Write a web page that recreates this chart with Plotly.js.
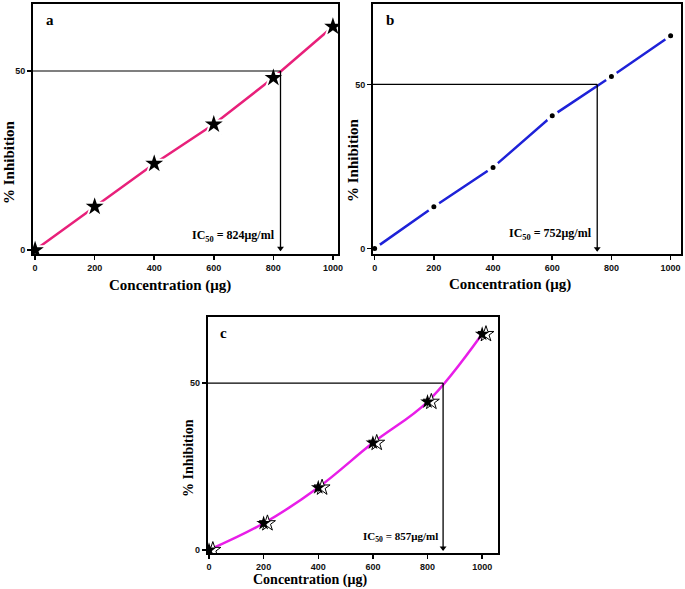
<!DOCTYPE html>
<html><head><meta charset="utf-8">
<script src="https://cdn.plot.ly/plotly-3.0.1.min.js"></script>
<style>html,body{margin:0;padding:0;background:#fff;}#chart{width:685px;height:589px;}</style>
</head><body><div id="chart"></div>
<script>
// Data
const conc = [0, 200, 400, 600, 800, 1000];
const inhA = [0, 12.1, 24.1, 35.1, 48.1, 62.4];
const inhB = [0, 12.7, 24.7, 40.4, 52.4, 64.8];
const inhC = [0, 8.0, 18.7, 32.1, 44.4, 64.7];
const ic50 = [824, 752, 857];
const panelLabels = ['a', 'b', 'c'];
const xTicks = [0, 200, 400, 600, 800, 1000];
const yTicks = [0, 50];

const xr = [[-7, 1017], [-5.7, 1034], [-4.8, 1057]];
const yr = [[-1.1, 68.7], [-1.7, 74.5], [-1, 69.9]];
const refs = [['x', 'y'], ['x2', 'y2'], ['x3', 'y3']];

const traces = [
  {x: conc, y: inhA, xaxis: 'x', yaxis: 'y', mode: 'lines+markers', type: 'scatter',
   line: {color: '#e8207a', width: 2.5},
   marker: {symbol: 'star', size: 18, color: '#000', line: {color: '#fff', width: 2}}},
  {x: conc, y: inhB, xaxis: 'x2', yaxis: 'y2', mode: 'lines+markers', type: 'scatter',
   line: {color: '#1e22d8', width: 2.5},
   marker: {symbol: 'circle', size: 9, color: '#000', line: {color: '#fff', width: 4}}},
  {x: conc, y: inhC, xaxis: 'x3', yaxis: 'y3', mode: 'lines', type: 'scatter',
   line: {color: '#e81ee8', width: 2.5, shape: 'spline'}},
  {x: conc.map(v => v + 14), y: inhC, xaxis: 'x3', yaxis: 'y3', mode: 'markers', type: 'scatter',
   marker: {symbol: 'star', size: 12, color: '#fff', line: {color: '#000', width: 1}}},
  {x: conc, y: inhC, xaxis: 'x3', yaxis: 'y3', mode: 'markers', type: 'scatter',
   marker: {symbol: 'star', size: 11, color: '#000', line: {color: '#000', width: 0}}}
];
// IC50 arrowheads
refs.forEach((r, i) => traces.push({x: [ic50[i]], y: [yr[i][0] + 1.6], xaxis: r[0], yaxis: r[1],
  mode: 'markers', type: 'scatter', marker: {symbol: 'triangle-down', size: 6, color: '#000'}}));

function ax(domain, range, vals) {
  return {
    domain: domain, range: range, tickmode: 'array', tickvals: vals,
    showline: true, linecolor: '#000', linewidth: 2, mirror: true,
    ticks: 'outside', ticklen: 4, tickwidth: 1.5, tickcolor: '#000',
    showgrid: false, zeroline: false,
    tickfont: {family: 'Liberation Sans, Arial', size: 9, color: '#111', weight: 'bold'}
  };
}

const layout = {
  width: 685, height: 589, margin: {l: 0, r: 0, t: 0, b: 0},
  paper_bgcolor: '#fff', plot_bgcolor: '#fff', showlegend: false,
  xaxis: Object.assign(ax([0.0482, 0.4934], xr[0], xTicks), {anchor: 'y'}),
  yaxis: Object.assign(ax([0.5688, 0.9932], yr[0], yTicks), {anchor: 'x'}),
  xaxis2: Object.assign(ax([0.5445, 0.9937], xr[1], xTicks), {anchor: 'y2'}),
  yaxis2: Object.assign(ax([0.5688, 0.9932], yr[1], yTicks), {anchor: 'x2'}),
  xaxis3: Object.assign(ax([0.3032, 0.7266], xr[2], xTicks), {anchor: 'y3'}),
  yaxis3: Object.assign(ax([0.0606, 0.4623], yr[2], yTicks), {anchor: 'x3'}),
  shapes: [], annotations: []
};

const serif = 'Liberation Serif, Times New Roman, serif';
const icSize = [12, 12, 11];
refs.forEach((r, i) => {
  layout.shapes.push({type: 'line', xref: r[0], yref: r[1], x0: xr[i][0], x1: ic50[i], y0: 50, y1: 50,
    line: {color: '#000', width: 1.2}});
  layout.shapes.push({type: 'line', xref: r[0], yref: r[1], x0: ic50[i], x1: ic50[i], y0: 50, y1: yr[i][0] + 1,
    line: {color: '#000', width: 1.3}});
  layout.annotations.push({xref: r[0], yref: r[1], x: ic50[i], y: 0, xanchor: 'right', yanchor: 'bottom',
    xshift: -3, yshift: 4, showarrow: false,
    text: 'IC<sub>50</sub> = ' + ic50[i] + 'μg/ml',
    font: {family: serif, size: icSize[i], color: '#000', weight: 'bold'}});
  layout.annotations.push({xref: r[0] + ' domain', yref: r[1] + ' domain', x: 0.035, y: 0.975,
    xanchor: 'left', yanchor: 'top', showarrow: false, text: panelLabels[i],
    font: {family: serif, size: 15, color: '#000', weight: 'bold'}});
});

// Axis titles (paper coords, pixel positions)
const xt = [[170, 286, 15], [510, 284, 15], [310, 580, 14]];
const yt = [[9, 162, 15], [353, 160, 15], [188, 458, 14]];
xt.forEach(p => layout.annotations.push({xref: 'paper', yref: 'paper', x: p[0] / 685, y: 1 - p[1] / 589,
  xanchor: 'center', yanchor: 'middle', showarrow: false, text: 'Concentration (μg)',
  font: {family: serif, size: p[2], color: '#000', weight: 'bold'}}));
yt.forEach(p => layout.annotations.push({xref: 'paper', yref: 'paper', x: p[0] / 685, y: 1 - p[1] / 589,
  xanchor: 'center', yanchor: 'middle', showarrow: false, text: '% Inhibition', textangle: -90,
  font: {family: serif, size: p[2], color: '#000', weight: 'bold'}}));

Plotly.newPlot('chart', traces, layout, {displayModeBar: false, staticPlot: true});
</script></body></html>
